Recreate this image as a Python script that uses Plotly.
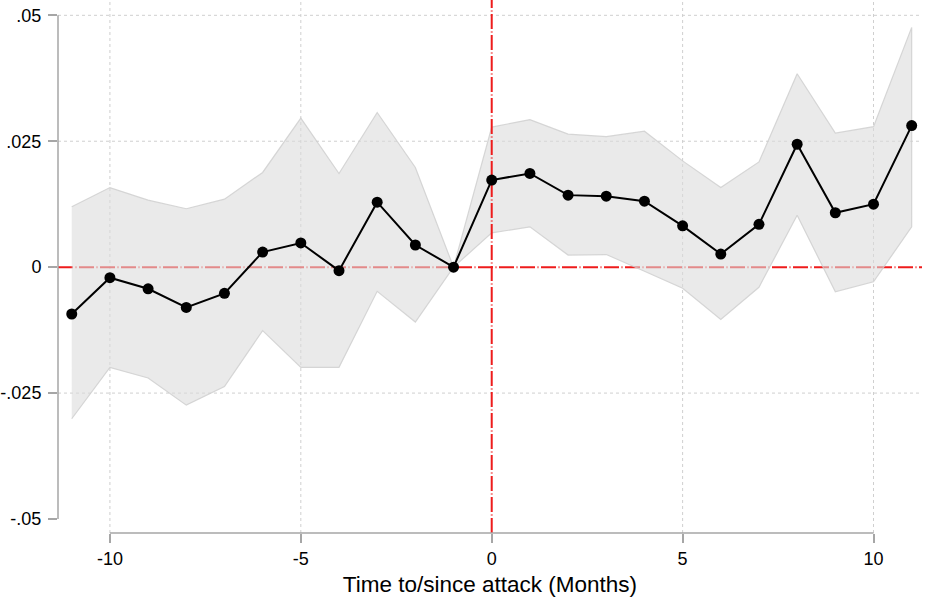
import plotly.graph_objects as go

# ---- data ----
months = [-11, -10, -9, -8, -7, -6, -5, -4, -3, -2, -1, 0, 1, 2, 3, 4, 5, 6, 7, 8, 9, 10, 11]
coef = [-0.0093, -0.0021, -0.0043, -0.0080, -0.0052, 0.0030, 0.0048, -0.0007, 0.0129, 0.0044, 0.0,
        0.0173, 0.0186, 0.0143, 0.0141, 0.0131, 0.0082, 0.0026, 0.0085, 0.0244, 0.0108, 0.0125, 0.0281]
ci_upper = [0.0120, 0.0158, 0.0133, 0.0116, 0.0135, 0.0188, 0.0296, 0.0186, 0.0307, 0.0198, 0.0,
            0.0278, 0.0293, 0.0264, 0.0259, 0.0270, 0.0211, 0.0158, 0.0209, 0.0384, 0.0266, 0.0279, 0.0476]
ci_lower = [-0.0301, -0.0199, -0.0220, -0.0274, -0.0237, -0.0126, -0.0199, -0.0199, -0.0048, -0.0109, 0.0,
            0.0068, 0.0080, 0.0024, 0.0025, -0.0008, -0.0042, -0.0104, -0.0040, 0.0103, -0.0049, -0.0029, 0.0080]

x_tickvals = [-10, -5, 0, 5, 10]
x_ticktext = ["-10", "-5", "0", "5", "10"]
y_tickvals = [0.05, 0.025, 0, -0.025, -0.05]
y_ticktext = [".05", ".025", "0", "-.025", "-.05"]
x_grid = [-10, -5, 5, 10]
y_grid = [0.05, 0.025, -0.025]
x_title = "Time to/since attack (Months)"

# ---- layout constants ----
X_RANGE = [-11.36, 11.27]
Y_RANGE = [-0.05278, 0.05304]
FONT = "Liberation Sans, Arial, sans-serif"
AXIS_GRAY = "#a6a6a6"
RED = "#ee1c1c"
RED_DASH = "15px,2.5px,1px,2.5px"

fig = go.Figure()

# horizontal reference line at 0 (beneath the CI band)
fig.add_trace(go.Scatter(x=X_RANGE, y=[0, 0], mode="lines",
                         line=dict(color=RED, width=2, dash=RED_DASH),
                         hoverinfo="skip", showlegend=False))

# confidence band
fig.add_trace(go.Scatter(x=months + months[::-1], y=ci_upper + ci_lower[::-1],
                         mode="lines", fill="toself",
                         fillcolor="rgba(218,218,218,0.58)",
                         line=dict(color="rgba(205,205,205,0.8)", width=1.2),
                         hoverinfo="skip", showlegend=False))

# vertical reference line at 0
fig.add_trace(go.Scatter(x=[0, 0], y=Y_RANGE, mode="lines",
                         line=dict(color=RED, width=2, dash=RED_DASH),
                         hoverinfo="skip", showlegend=False))

# point estimates
fig.add_trace(go.Scatter(x=months, y=coef, mode="lines+markers",
                         line=dict(color="black", width=2),
                         marker=dict(color="black", size=11),
                         showlegend=False))

shapes = []
# gridlines
for gx in x_grid:
    shapes.append(dict(type="line", xref="x", yref="paper", x0=gx, x1=gx, y0=0, y1=1,
                       line=dict(color="#cfcfcf", width=1, dash="dot"), layer="below"))
for gy in y_grid:
    shapes.append(dict(type="line", xref="paper", yref="y", x0=0, x1=1, y0=gy, y1=gy,
                       line=dict(color="#cfcfcf", width=1, dash="dot"), layer="below"))
# axis lines spanning only the tick range (Stata style)
shapes.append(dict(type="line", xref="paper", yref="y", x0=0, x1=0,
                   y0=min(y_tickvals), y1=max(y_tickvals),
                   line=dict(color=AXIS_GRAY, width=1.5), layer="above"))
shapes.append(dict(type="line", xref="x", yref="paper", x0=min(x_tickvals), x1=max(x_tickvals),
                   y0=0, y1=0, line=dict(color=AXIS_GRAY, width=1.5), layer="above"))

fig.update_layout(
    width=927, height=599,
    margin=dict(l=58, r=5, t=0, b=66),
    paper_bgcolor="white", plot_bgcolor="white",
    font=dict(family=FONT, size=18, color="black"),
    shapes=shapes,
    showlegend=False,
)
fig.update_xaxes(range=X_RANGE, tickmode="array", tickvals=x_tickvals, ticktext=x_ticktext,
                 showgrid=False, zeroline=False, showline=False,
                 ticks="outside", ticklen=9, tickwidth=1.5, tickcolor=AXIS_GRAY,
                 tickfont=dict(family=FONT, size=18, color="black"),
                 title=dict(text=x_title, font=dict(family=FONT, size=22.5, color="black"), standoff=8))
fig.update_yaxes(range=Y_RANGE, tickmode="array", tickvals=y_tickvals, ticktext=y_ticktext,
                 showgrid=False, zeroline=False, showline=False,
                 ticks="outside", ticklen=9, tickwidth=1.5, tickcolor=AXIS_GRAY,
                 tickfont=dict(family=FONT, size=18, color="black"),
                 ticklabelstandoff=3)

fig.write_html("out.html", config={"displayModeBar": False})
